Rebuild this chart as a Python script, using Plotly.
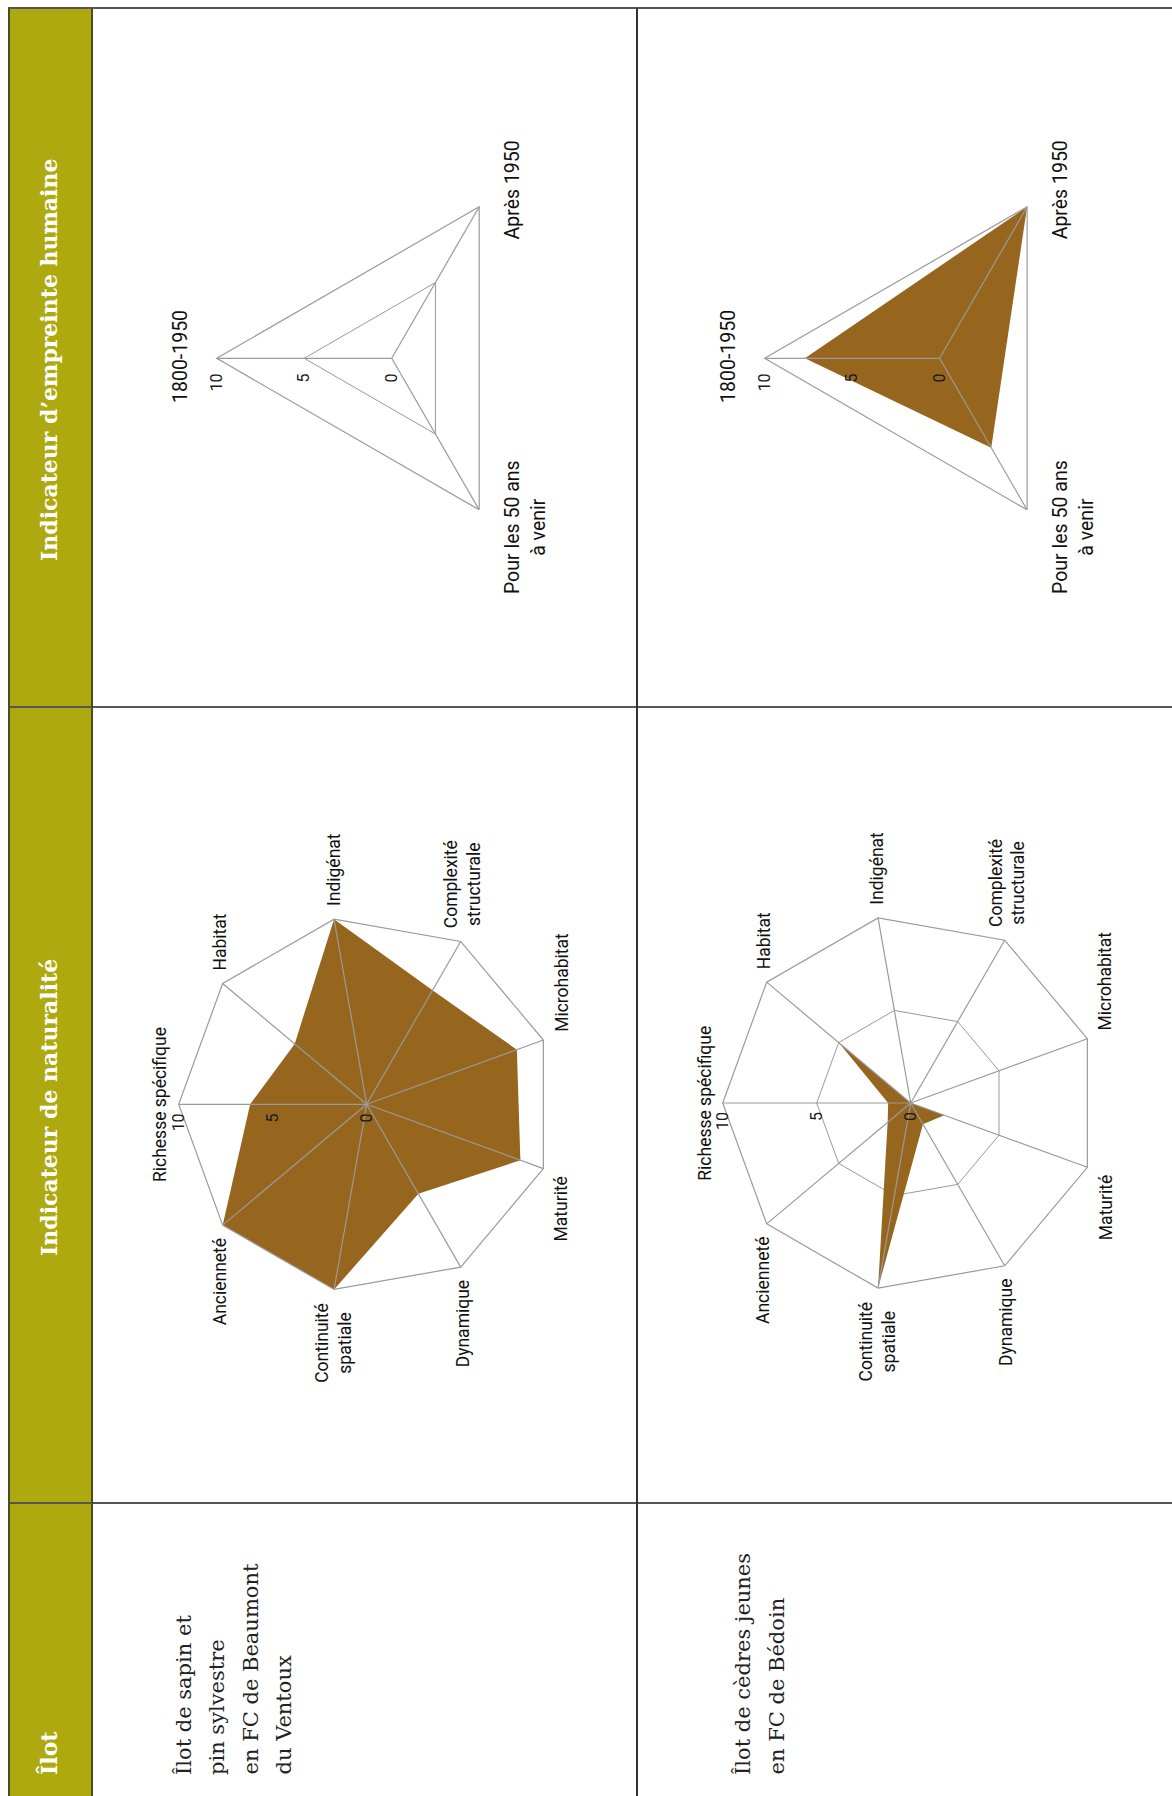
import math
import plotly.graph_objects as go

W, H = 1172, 1796

# ---------------- data ----------------
headers = ["Indicateur d’empreinte humaine", "Indicateur de naturalité", "Îlot"]
ilot_beaumont = ["Îlot de sapin et", "pin sylvestre", "en FC de Beaumont", "du Ventoux"]
ilot_bedoin = ["Îlot de cèdres jeunes", "en FC de Bédoin"]

nat_axes = ["Richesse spécifique", "Habitat", "Indigénat", "Complexité<br>structurale",
            "Microhabitat", "Maturité", "Dynamique", "Continuité<br>spatiale", "Ancienneté"]
nat_beaumont = [6.2, 5.0, 10.0, 7.0, 8.5, 8.7, 5.5, 10.0, 10.0]
nat_bedoin = [1.2, 5.0, 0.0, 0.0, 0.0, 1.9, 1.3, 10.0, 1.6]

emp_axes = ["1800-1950", "Après 1950", "Pour les 50 ans<br>à venir"]
emp_beaumont = [0.0, 0.0, 0.0]
emp_bedoin = [7.7, 10.0, 5.9]

radial_ticks = [0, 5, 10]
radial_max = 10

# ---------------- style ----------------
OLIVE = "#AEA90E"
OLIVE_LINE = "#4E4A22"
FILL = "#97661E"
GRID = "#9A9A9A"
SANS = "Roboto, Liberation Sans, sans-serif"
SERIF = "DejaVu Serif, Liberation Serif, serif"

fig = go.Figure()
annotations = []


def px_x(x):
    return x / W


def px_y(y):
    return 1 - y / H


def domain(cx, cy, R):
    return dict(x=[px_x(cx - R), px_x(cx + R)], y=[px_y(cy + R), px_y(cy - R)])


def add_radar(name, axes, values, cx, cy, R, lab_size, kind, tlen):
    # filled polygon
    fig.add_trace(go.Scatterpolar(
        r=values + values[:1], theta=axes + axes[:1], subplot=name,
        mode="lines", fill="toself", fillcolor=FILL,
        line=dict(width=0, color=FILL), hoverinfo="skip", showlegend=False))
    # spokes drawn above the fill
    rr, tt = [], []
    for a in axes:
        rr += [0, radial_max, None]
        tt += [a, a, a]
    fig.add_trace(go.Scatterpolar(
        r=rr, theta=tt, subplot=name, mode="lines", connectgaps=False,
        line=dict(width=1.2, color=GRID), hoverinfo="skip", showlegend=False))
    fig.update_layout(**{name: dict(
        domain=domain(cx, cy, R),
        bgcolor="rgba(0,0,0,0)",
        gridshape="linear",
        angularaxis=dict(type="category", categoryorder="array", categoryarray=axes,
                         rotation=180, direction="clockwise", showgrid=False,
                         showline=True, linecolor=GRID, linewidth=1.2, ticks="",
                         showticklabels=False),
        radialaxis=dict(range=[0, radial_max], tickvals=radial_ticks, showline=False,
                        showgrid=True, gridcolor=GRID, gridwidth=1.2, angle=180,
                        side="counterclockwise", ticks="outside", ticklen=tlen,
                        tickcolor="rgba(0,0,0,0)", tickangle=90,
                        tickfont=dict(family=SANS, size=16, color="#1a1a1a")),
    )})
    # category labels, rotated like the rest of the page
    n = len(axes)
    for i, a in enumerate(axes):
        th = math.radians(180 - i * 360.0 / n)
        c, s = round(math.cos(th), 6), round(math.sin(th), 6)
        vx, vy = cx + R * c, cy - R * s
        if kind == "nat":
            if abs(c) > 0.9:
                xa = "left" if c > 0 else "right"
                x = vx + (6 if c > 0 else -6)
            else:
                xa, x = "center", vx + 4 * c
            if abs(s) < 0.1:
                ya, y = "middle", vy
            else:
                ya = "bottom" if s > 0 else "top"
                y = vy - (11 if abs(s) > 0.5 else 6) * (1 if s > 0 else -1)
        else:
            xa = "left" if c > 0 else "right"
            x = vx + (20 if c > 0 else -22)
            ya = "middle"
            y = vy - (17 if s > 0.1 else (-17 if s < -0.1 else 1.5))
        annotations.append(dict(text=a, xref="paper", yref="paper", x=px_x(x), y=px_y(y),
                                xanchor=xa, yanchor=ya, textangle=-90, align="center",
                                showarrow=False,
                                font=dict(family=SANS, size=lab_size, color="#111")))


add_radar("polar", emp_axes, emp_beaumont, 391.7, 358.3, 175, 19.5, "emp", 9)
add_radar("polar2", emp_axes, emp_bedoin, 939.6, 358.3, 175, 19.5, "emp", 9)
add_radar("polar3", nat_axes, nat_beaumont, 366.7, 1104.3, 188, 17.5, "nat", 3)
add_radar("polar4", nat_axes, nat_bedoin, 910.7, 1103.0, 188, 17.5, "nat", 3)

# ---------------- table frame ----------------
shapes = []
shapes.append(dict(type="rect", xref="paper", yref="paper", x0=px_x(9), x1=px_x(92),
                   y0=px_y(H + 5), y1=px_y(8), fillcolor=OLIVE,
                   line=dict(color=OLIVE_LINE, width=2), layer="below"))
for yy in (8, 707, 1503):
    shapes.append(dict(type="line", xref="paper", yref="paper", x0=px_x(9), x1=px_x(W),
                       y0=px_y(yy), y1=px_y(yy), line=dict(color="#555555", width=2)))
shapes.append(dict(type="line", xref="paper", yref="paper", x0=px_x(637), x1=px_x(637),
                   y0=px_y(8), y1=px_y(H), line=dict(color="#333333", width=2)))
shapes.append(dict(type="line", xref="paper", yref="paper", x0=px_x(92), x1=px_x(92),
                   y0=px_y(8), y1=px_y(H), line=dict(color=OLIVE_LINE, width=2)))

# header texts
for txt, yc in zip(headers[:2], (360, 1108)):
    annotations.append(dict(text="<b>" + txt + "</b>", xref="paper", yref="paper",
                            x=px_x(49), y=px_y(yc), xanchor="center", yanchor="middle",
                            textangle=-90, showarrow=False,
                            font=dict(family=SERIF, size=22, color="white")))
annotations.append(dict(text="<b>" + headers[2] + "</b>", xref="paper", yref="paper",
                        x=px_x(49), y=px_y(1777), xanchor="center", yanchor="bottom",
                        textangle=-90, showarrow=False,
                        font=dict(family=SERIF, size=22, color="white")))
# row labels, one annotation per line
for lines, x0 in ((ilot_beaumont, 184), (ilot_bedoin, 743)):
    for i, line in enumerate(lines):
        annotations.append(dict(text=line, xref="paper", yref="paper", x=px_x(x0 + 33 * i),
                                y=px_y(1777), xanchor="center", yanchor="bottom", textangle=-90,
                                showarrow=False, font=dict(family=SERIF, size=21, color="#222")))

fig.update_layout(width=W, height=H, margin=dict(l=0, r=0, t=0, b=0),
                  paper_bgcolor="white", plot_bgcolor="white",
                  shapes=shapes, annotations=annotations, showlegend=False)

fig.write_html("out.html", config={"displayModeBar": False},
               post_script="document.body.style.margin='0px';")
